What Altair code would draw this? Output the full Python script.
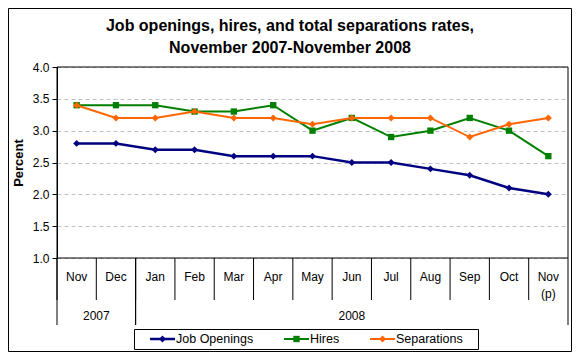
import altair as alt
import pandas as pd

# ---------------- data ----------------
months = ["Nov", "Dec", "Jan", "Feb", "Mar", "Apr", "May", "Jun", "Jul",
          "Aug", "Sep", "Oct", "Nov\n(p)"]
job_openings = [2.8, 2.8, 2.7, 2.7, 2.6, 2.6, 2.6, 2.5, 2.5, 2.4, 2.3, 2.1, 2.0]
hires = [3.4, 3.4, 3.4, 3.3, 3.3, 3.4, 3.0, 3.2, 2.9, 3.0, 3.2, 3.0, 2.6]
separations = [3.4, 3.2, 3.2, 3.3, 3.2, 3.2, 3.1, 3.2, 3.2, 3.2, 2.9, 3.1, 3.2]
series_names = ["Job Openings", "Hires", "Separations"]
years = ["2007", "2008"]
year_first_month = [0, 2]
year_last_month = [1, 12]
y_ticks = [1.0, 1.5, 2.0, 2.5, 3.0, 3.5, 4.0]
title_lines = ["Job openings, hires, and total separations rates,",
               "November 2007-November 2008"]
y_title = "Percent"

# ---------------- tables ----------------
idx = list(range(len(months)))
months_df = pd.DataFrame({"i": idx, "month": months})
values = [job_openings, hires, separations]
long_df = pd.concat(
    [pd.DataFrame({"i": idx, "series": name, "value": vals})
     for name, vals in zip(series_names, values)],
    ignore_index=True)
years_df = pd.DataFrame({"year": years, "first": year_first_month,
                         "last": year_last_month})
one = pd.DataFrame({"a": [0]})

# ---------------- style ----------------
FONT = "Liberation Sans"
W, H = 511, 191
colors = ["#000080", "#008000", "#FF6600"]
shapes = ["diamond", "square", "diamond"]
sizes = [48, 40, 50]
widths = [2.5, 2, 2]

xs = alt.Scale(domain=[-0.5, 12.5], nice=False, zero=False)
ys = alt.Scale(domain=[1, 4], nice=False, zero=False)

y_axis = alt.Axis(values=y_ticks, format=".1f", title=y_title,
                  labelOverlap=False, tickCount=7,
                  grid=True, gridDash=[4, 3], gridColor="#c0c0c0",
                  gridWidth=1, tickSize=5, tickColor="black",
                  domainColor="black", labelFont=FONT,
                  labelFontSize=12, labelColor="black",
                  labelPadding=3, titleFont=FONT, titleFontSize=13,
                  titleFontWeight="bold", titleColor="black",
                  titlePadding=7)
yenc = alt.Y("value:Q", scale=ys, axis=y_axis)
xenc = alt.X("i:Q", scale=xs, axis=None)

layers = []

# outer frame
layers.append(alt.Chart(one).mark_rect(fill="transparent", stroke="black", strokeWidth=1).encode(
    x=alt.value(-48.5), x2=alt.value(514.5), y=alt.value(-58.5), y2=alt.value(284.5)))

# title
for k, line in enumerate(title_lines):
    layers.append(alt.Chart(one).mark_text(
        text=line, font=FONT, fontSize=16, fontWeight="bold", color="black",
        align="center", baseline="middle").encode(
        x=alt.value(233), y=alt.value(-41 + 22 * k)))

# series
for name, col, shp, sz, sw in zip(series_names, colors, shapes, sizes, widths):
    base = alt.Chart(long_df).transform_filter(alt.datum.series == name)
    layers.append(base.mark_line(color=col, strokeWidth=sw).encode(x=xenc, y=yenc))
    layers.append(base.mark_point(shape=shp, filled=True, size=sz, color=col,
                                  opacity=1).encode(x=xenc, y=yenc))

# plot frame
layers.append(alt.Chart(one).mark_rect(fill="transparent", stroke="black", strokeWidth=1).encode(
    x=alt.value(0), x2=alt.value(W), y=alt.value(0), y2=alt.value(H)))

# month separators (short)
layers.append(alt.Chart(months_df).transform_calculate(b="datum.i - 0.5").mark_rule(
    color="black", strokeWidth=1).encode(
    x=alt.X("b:Q", scale=xs, axis=None), y=alt.value(H), y2=alt.value(H + 42)))

# year separators (long)
layers.append(alt.Chart(years_df).transform_calculate(
    lo="datum.first - 0.5", hi="datum.last + 0.5").transform_fold(
    ["lo", "hi"], as_=["k", "b"]).mark_rule(color="black", strokeWidth=1).encode(
    x=alt.X("b:Q", scale=xs, axis=None), y=alt.value(H), y2=alt.value(H + 67)))

# month labels
layers.append(alt.Chart(months_df).mark_text(
    font=FONT, fontSize=12, color="black", baseline="middle", lineBreak="\n",
    lineHeight=17).encode(
    x=alt.X("i:Q", scale=xs, axis=None), y=alt.value(H + 19), text="month:N"))

# year labels
layers.append(alt.Chart(years_df).transform_calculate(
    mid="(datum.first + datum.last) / 2").mark_text(
    font=FONT, fontSize=12, color="black", baseline="middle").encode(
    x=alt.X("mid:Q", scale=xs, axis=None), y=alt.value(H + 58), text="year:N"))

# legend
LY = H + 81
layers.append(alt.Chart(one).mark_rect(fill="white", stroke="black", strokeWidth=1).encode(
    x=alt.value(77.5), x2=alt.value(421.5), y=alt.value(H + 71.5), y2=alt.value(H + 91.5)))
legend_x = [93, 227, 313]
for name, col, shp, sz, sw, lx in zip(series_names, colors, shapes, sizes, widths, legend_x):
    layers.append(alt.Chart(one).mark_rule(color=col, strokeWidth=sw).encode(
        x=alt.value(lx), x2=alt.value(lx + 25), y=alt.value(LY)))
    layers.append(alt.Chart(one).mark_point(shape=shp, filled=True, size=sz,
                                            color=col, opacity=1).encode(
        x=alt.value(lx + 12.5), y=alt.value(LY)))
    layers.append(alt.Chart(one).mark_text(
        text=name, font=FONT, fontSize=12.5, color="black", align="left",
        baseline="middle").encode(x=alt.value(lx + 26), y=alt.value(LY)))

chart = alt.layer(*layers).properties(
    width=W, height=H,
    autosize=alt.AutoSizeParams(type="none"),
    padding={"left": 49, "top": 59, "right": 4, "bottom": 94},
).configure_view(stroke=None)

chart.save("out.html", embed_options={"renderer": "svg", "actions": False})
